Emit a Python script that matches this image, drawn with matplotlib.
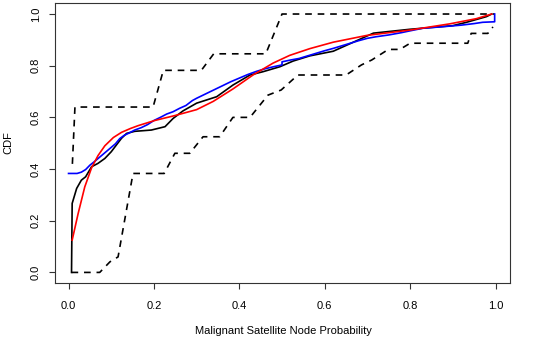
import numpy as np
import matplotlib
matplotlib.use("Agg")
import matplotlib.pyplot as plt

plt.rcParams['font.family'] = ['Liberation Sans', 'DejaVu Sans']

# upper / lower dashed bands
upper_x = [0.009, 0.015, 0.198, 0.222, 0.311, 0.340, 0.462, 0.500, 0.998]
upper_y = [0.42, 0.64, 0.64, 0.782, 0.782, 0.846, 0.846, 1.0, 1.0]

lower_x = [0.007, 0.073, 0.097, 0.116, 0.151, 0.224, 0.249, 0.284, 0.315, 0.354,
           0.385, 0.425, 0.467, 0.498, 0.537, 0.650, 0.686, 0.710, 0.749, 0.776,
           0.800, 0.935, 0.943, 0.982, 0.994]
lower_y = [0.0, 0.0, 0.041, 0.06, 0.383, 0.383, 0.461, 0.461, 0.525, 0.525,
           0.60, 0.60, 0.686, 0.706, 0.764, 0.764, 0.803, 0.822, 0.863, 0.863,
           0.887, 0.887, 0.925, 0.925, 0.95]

# black curve
black_x = [0.007, 0.0085, 0.019, 0.030, 0.040, 0.054, 0.069, 0.085, 0.100, 0.112,
           0.124, 0.136, 0.155, 0.194, 0.226, 0.245, 0.268, 0.300, 0.347, 0.385,
           0.425, 0.456, 0.495, 0.526, 0.565, 0.620, 0.659, 0.714, 0.800, 0.900,
           0.932, 0.979, 0.991]
black_y = [0.0, 0.267, 0.325, 0.357, 0.370, 0.409, 0.422, 0.441, 0.467, 0.493,
           0.519, 0.538, 0.546, 0.551, 0.564, 0.596, 0.625, 0.655, 0.680, 0.725,
           0.764, 0.777, 0.796, 0.818, 0.838, 0.856, 0.885, 0.926, 0.941, 0.955,
           0.968, 0.990, 1.0]

# red fitted curve
red_x = [0.0085, 0.0225, 0.038, 0.054, 0.069, 0.085, 0.105, 0.124, 0.145, 0.163,
         0.202, 0.249, 0.300, 0.339, 0.385, 0.432, 0.479, 0.518, 0.565, 0.620,
         0.698, 0.800, 0.893, 0.955, 0.991]
red_y = [0.125, 0.228, 0.331, 0.405, 0.452, 0.490, 0.522, 0.542, 0.557, 0.568,
         0.588, 0.607, 0.630, 0.662, 0.710, 0.764, 0.810, 0.840, 0.866, 0.891,
         0.917, 0.938, 0.962, 0.982, 1.0]

# blue curve (fine steps)
blue_x = [0.0, 0.02, 0.03, 0.04, 0.05, 0.06, 0.07, 0.08, 0.09, 0.10, 0.11, 0.12,
          0.13, 0.14, 0.155, 0.17, 0.185, 0.20, 0.215, 0.23, 0.245, 0.26, 0.275,
          0.29, 0.30, 0.32, 0.34, 0.36, 0.38, 0.40, 0.42, 0.44, 0.46, 0.48, 0.50,
          0.50, 0.52, 0.54, 0.56, 0.58, 0.60, 0.62, 0.64, 0.66, 0.68, 0.70, 0.72,
          0.75, 0.78, 0.80, 0.83, 0.87, 0.92, 0.95, 0.97, 0.998, 0.998]
blue_y = [0.383, 0.383, 0.388, 0.398, 0.415, 0.428, 0.442, 0.456, 0.470, 0.484,
          0.498, 0.518, 0.530, 0.538, 0.551, 0.560, 0.572, 0.588, 0.600, 0.613,
          0.622, 0.635, 0.646, 0.665, 0.674, 0.690, 0.706, 0.722, 0.738, 0.752,
          0.766, 0.778, 0.788, 0.796, 0.803, 0.815, 0.822, 0.828, 0.838, 0.848,
          0.858, 0.867, 0.877, 0.887, 0.897, 0.906, 0.912, 0.919, 0.928, 0.935,
          0.945, 0.950, 0.957, 0.963, 0.968, 0.970, 1.0]

fig = plt.figure(figsize=(5.38, 3.52), dpi=100)
ax = fig.add_axes([0.102, 0.196, 0.846, 0.795])

lw = 1.2
ax.plot(upper_x, upper_y, color='black', lw=lw, dashes=(4, 3.5))
ax.plot(lower_x, lower_y, color='black', lw=lw, dashes=(4, 3.5))
ax.plot(black_x, black_y, color='black', lw=lw)
ax.plot(blue_x, blue_y, color='blue', lw=lw)
ax.plot(red_x, red_y, color='red', lw=lw)

ax.set_xlim(-0.032, 1.034)
ax.set_ylim(-0.041, 1.042)
ax.set_xticks([0.0, 0.2, 0.4, 0.6, 0.8, 1.0])
ax.set_yticks([0.0, 0.2, 0.4, 0.6, 0.8, 1.0])
ax.set_xticklabels(['0.0', '0.2', '0.4', '0.6', '0.8', '1.0'])
ax.set_yticklabels(['0.0', '0.2', '0.4', '0.6', '0.8', '1.0'], rotation=90, va='center')
ax.tick_params(length=4, width=0.8, labelsize=8, color='#333333')
ax.tick_params(axis='x', pad=9)
ax.tick_params(axis='y', pad=6)
for s in ax.spines.values():
    s.set_linewidth(0.8)
    s.set_color('#333333')

fig.text(8 / 538, 1 - 143 / 352, 'CDF', rotation=90, ha='center', va='center', fontsize=8)
fig.text(283 / 538, 1 - 331 / 352, 'Malignant Satellite Node Probability',
         ha='center', va='center', fontsize=8)

fig.savefig('out.png', dpi=100)
